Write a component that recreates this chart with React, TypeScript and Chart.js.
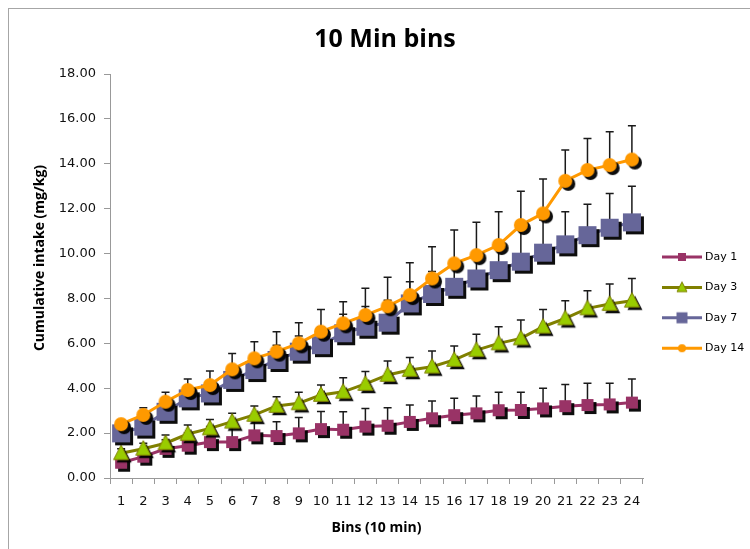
import { useEffect, useRef } from 'react';
import { Chart, registerables } from 'chart.js';

Chart.register(...registerables);

const CATEGORIES = ['1', '2', '3', '4', '5', '6', '7', '8', '9', '10', '11', '12', '13', '14', '15', '16', '17', '18', '19', '20', '21', '22', '23', '24'];

const SERIES_LABELS = ['Day 1', 'Day 3', 'Day 7', 'Day 14'];

const DAY1 = [0.68, 0.95, 1.3, 1.44, 1.6, 1.6, 1.9, 1.87, 1.99, 2.18, 2.15, 2.29, 2.33, 2.5, 2.66, 2.8, 2.88, 3.02, 3.03, 3.1, 3.2, 3.25, 3.28, 3.36];
const DAY1_ERR = [0.3, 0.35, 0.4, 0.56, 0.7, 0.7, 0.76, 0.64, 0.7, 0.78, 0.8, 0.81, 0.8, 0.75, 0.77, 0.75, 0.77, 0.8, 0.79, 0.9, 0.97, 0.97, 0.94, 1.05];

const DAY3 = [1.1, 1.3, 1.55, 1.96, 2.21, 2.51, 2.81, 3.21, 3.33, 3.7, 3.84, 4.19, 4.59, 4.81, 4.96, 5.26, 5.7, 6.0, 6.22, 6.74, 7.11, 7.56, 7.75, 7.9];
const DAY3_ERR = [0.2, 0.25, 0.37, 0.4, 0.4, 0.37, 0.4, 0.41, 0.49, 0.44, 0.63, 0.55, 0.62, 0.56, 0.7, 0.62, 0.71, 0.74, 0.82, 0.77, 0.79, 0.78, 0.89, 0.99];

const DAY7 = [1.99, 2.29, 2.95, 3.55, 3.77, 4.37, 4.81, 5.26, 5.63, 5.92, 6.45, 6.74, 6.92, 7.78, 8.2, 8.52, 8.89, 9.26, 9.64, 10.04, 10.41, 10.82, 11.15, 11.39];
const DAY7_ERR = [0.3, 0.4, 0.45, 0.45, 0.5, 0.55, 0.6, 0.65, 0.7, 0.8, 0.85, 0.9, 1.0, 0.96, 1.0, 1.1, 1.2, 1.3, 1.4, 1.45, 1.45, 1.38, 1.53, 1.61];

const DAY14 = [2.4, 2.81, 3.4, 3.92, 4.14, 4.84, 5.33, 5.63, 6.0, 6.52, 6.89, 7.26, 7.65, 8.15, 8.89, 9.56, 9.93, 10.38, 11.27, 11.79, 13.24, 13.72, 13.94, 14.19];
const DAY14_ERR = [0.2, 0.32, 0.42, 0.49, 0.63, 0.71, 0.74, 0.89, 0.92, 0.99, 0.96, 1.19, 1.29, 1.44, 1.41, 1.49, 1.46, 1.48, 1.51, 1.53, 1.37, 1.41, 1.49, 1.5];

const Y_MIN = 0;
const Y_MAX = 18;
const Y_STEP = 2;

const TITLE = '10 Min bins';
const X_TITLE = 'Bins (10 min)';
const Y_TITLE = 'Cumulative intake (mg/kg)';

type Shape = 'square' | 'triangle' | 'circle';

function makeMarker(shape: Shape, size: number, fill: string, stroke: string | null, shadow: boolean) {
  const off = shadow ? 3 : 0;
  let dim = Math.ceil(size + 2 * off + 4);
  if (dim % 2 === 1) dim += 1;
  const c = document.createElement('canvas');
  c.width = dim;
  c.height = dim;
  const g = c.getContext('2d') as CanvasRenderingContext2D;
  const cx = dim / 2;
  const cy = dim / 2;
  const path = (dx: number, dy: number) => {
    g.beginPath();
    if (shape === 'square') {
      g.rect(cx + dx - size / 2, cy + dy - size / 2, size, size);
    } else if (shape === 'circle') {
      g.arc(cx + dx, cy + dy, size / 2, 0, Math.PI * 2);
    } else {
      g.moveTo(cx + dx, cy + dy - size * 0.55);
      g.lineTo(cx + dx + size / 2, cy + dy + size * 0.42);
      g.lineTo(cx + dx - size / 2, cy + dy + size * 0.42);
      g.closePath();
    }
  };
  if (shadow) {
    path(off, off);
    g.fillStyle = 'rgba(0,0,0,0.95)';
    g.fill();
  }
  path(0, 0);
  g.fillStyle = fill;
  g.fill();
  if (stroke) {
    g.strokeStyle = stroke;
    g.lineWidth = 1;
    g.stroke();
  }
  return c;
}

const errorBarPlugin = {
  id: 'errorBars',
  beforeDatasetsDraw(chart: any) {
    const ctx = chart.ctx as CanvasRenderingContext2D;
    const yScale = chart.scales.y;
    ctx.save();
    ctx.strokeStyle = '#1a1a1a';
    ctx.lineWidth = 1.5;
    chart.data.datasets.forEach((ds: any, i: number) => {
      const meta = chart.getDatasetMeta(i);
      const errs: number[] = ds.errors || [];
      meta.data.forEach((pt: any, j: number) => {
        const v = ds.data[j] as number;
        const top = yScale.getPixelForValue(v + (errs[j] || 0));
        ctx.beginPath();
        ctx.moveTo(pt.x, pt.y);
        ctx.lineTo(pt.x, top);
        ctx.moveTo(pt.x - 4, top);
        ctx.lineTo(pt.x + 4, top);
        ctx.stroke();
      });
    });
    ctx.restore();
  },
};

export default function App() {
  const ref = useRef<HTMLCanvasElement>(null);

  useEffect(() => {
    if (!ref.current) return;
    const colors = ['#993366', '#808000', '#666699', '#FF9900'];
    const markerFills = ['#993366', '#99CC00', '#666699', '#FF9900'];
    const shapes: Shape[] = ['square', 'triangle', 'square', 'circle'];
    const sizes = [12, 15, 18, 14];
    const legendSizes = [8, 10, 11, 8];
    const strokes = [null, '#808000', null, null];
    const values = [DAY1, DAY3, DAY7, DAY14];
    const errors = [DAY1_ERR, DAY3_ERR, DAY7_ERR, DAY14_ERR];

    const markers = shapes.map((s, i) => makeMarker(s, sizes[i], markerFills[i], strokes[i], true));
    const legendMarkers = shapes.map((s, i) => makeMarker(s, legendSizes[i], markerFills[i], strokes[i], false));

    const textPlugin = {
      id: 'customText',
      afterDraw(chart: any) {
        const ctx = chart.ctx as CanvasRenderingContext2D;
        ctx.save();
        // legend
        SERIES_LABELS.forEach((label, i) => {
          const y = 257 + i * 30.4;
          ctx.strokeStyle = colors[i];
          ctx.lineWidth = 3;
          ctx.beginPath();
          ctx.moveTo(662, y);
          ctx.lineTo(702, y);
          ctx.stroke();
          const m = legendMarkers[i];
          ctx.drawImage(m, 682 - m.width / 2, y - m.height / 2);
          ctx.fillStyle = '#000';
          ctx.font = '11px "DejaVu Sans"';
          ctx.textAlign = 'left';
          ctx.textBaseline = 'middle';
          ctx.fillText(label, 705, y);
        });
        // chart title
        ctx.font = 'bold 25px "Open Sans"';
        ctx.fillStyle = '#000';
        ctx.textAlign = 'center';
        ctx.textBaseline = 'middle';
        ctx.fillText(TITLE, 385, 40);
        // y axis title
        ctx.translate(40, 258);
        ctx.rotate(-Math.PI / 2);
        ctx.font = 'bold 14px "Open Sans"';
        ctx.fillText(Y_TITLE, 0, 0);
        ctx.restore();
      },
    };

    const chart = new Chart(ref.current, {
      type: 'line',
      data: {
        labels: CATEGORIES,
        datasets: SERIES_LABELS.map((label, i) => ({
          label,
          data: values[i],
          errors: errors[i],
          borderColor: colors[i],
          backgroundColor: markerFills[i],
          borderWidth: 3,
          pointStyle: markers[i],
          pointRadius: 7,
          pointHoverRadius: 7,
          fill: false,
          tension: 0,
          order: 3 - i,
        })) as any,
      },
      options: {
        animation: false,
        responsive: false,
        maintainAspectRatio: false,
        devicePixelRatio: 1,
        events: [],
        layout: { padding: { left: 0, right: 107, top: 74, bottom: 0 } },
        plugins: {
          legend: { display: false },
          tooltip: { enabled: false },
          title: { display: false },
        },
        scales: {
          x: {
            type: 'category',
            offset: true,
            grid: {
              display: true,
              drawOnChartArea: false,
              drawTicks: true,
              tickLength: 6,
              offset: true,
              color: '#999',
            },
            border: { display: true, color: '#999', width: 1 },
            ticks: {
              font: { family: '"DejaVu Sans"', size: 13 },
              color: '#111',
              padding: 10,
              maxRotation: 0,
              minRotation: 0,
              autoSkip: false,
            },
            title: {
              display: true,
              text: X_TITLE,
              color: '#000',
              font: { family: '"Open Sans"', size: 14, weight: 'bold' },
              padding: { top: 0, bottom: 12.6 },
            },
            afterFit: (s: any) => {
              s.height = 71;
            },
          },
          y: {
            min: Y_MIN,
            max: Y_MAX,
            grid: {
              display: true,
              drawOnChartArea: false,
              drawTicks: true,
              tickLength: 6,
              color: '#999',
            },
            border: { display: true, color: '#999', width: 1 },
            ticks: {
              stepSize: Y_STEP,
              font: { family: '"DejaVu Sans"', size: 13 },
              color: '#111',
              padding: 8,
              callback: (v: any) => Number(v).toFixed(2),
            },
            title: { display: false },
            afterFit: (s: any) => {
              s.width = 110;
            },
          },
        },
      } as any,
      plugins: [errorBarPlugin, textPlugin],
    });

    return () => chart.destroy();
  }, []);

  return (
    <>
      <div
        style={{
          position: 'fixed',
          left: 8,
          top: 8,
          width: 800,
          height: 600,
          borderLeft: '1px solid #a6a6a6',
          borderTop: '1px solid #a6a6a6',
          boxSizing: 'border-box',
        }}
      />
      <canvas
        ref={ref}
        width={750}
        height={549}
        style={{ position: 'fixed', left: 0, top: 0, width: 750, height: 549 }}
      />
    </>
  );
}
